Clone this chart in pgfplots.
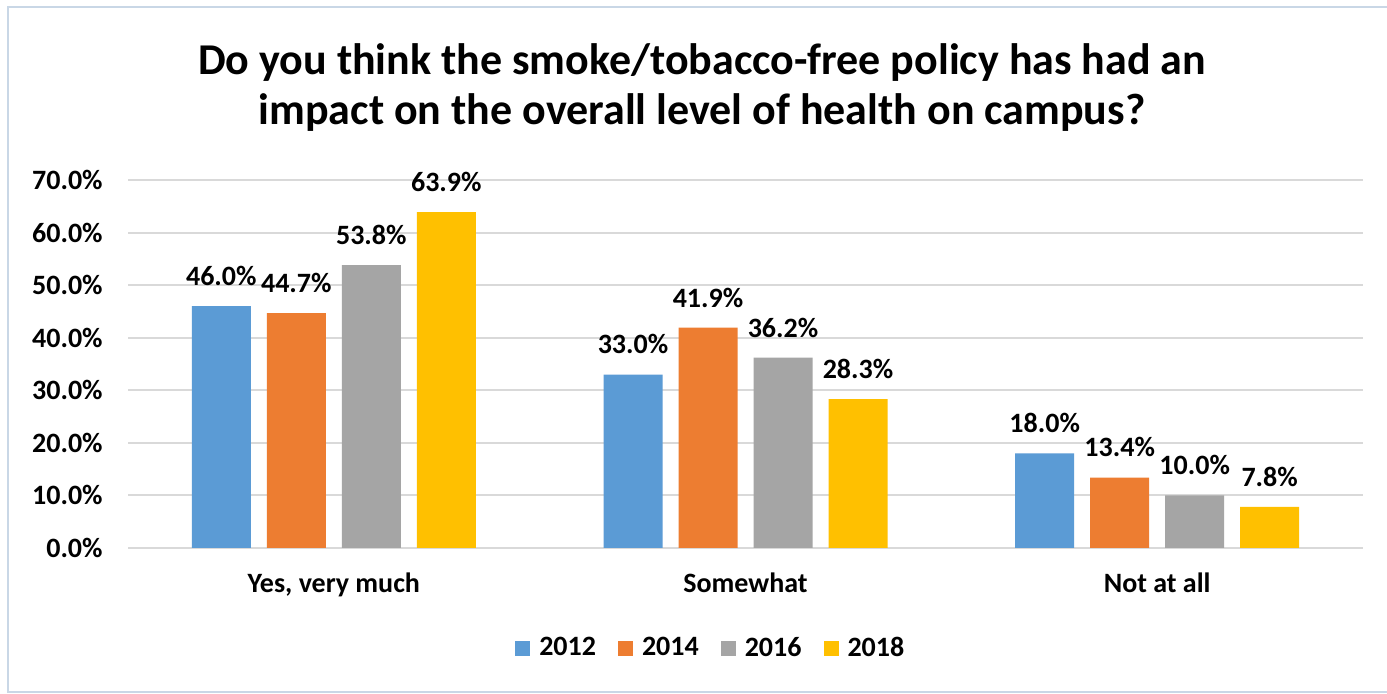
\documentclass[border=0pt]{standalone}
\usepackage{pgfplots}
\pgfplotsset{compat=1.18}
\usepackage{fontspec}
\setmainfont{Carlito}
\definecolor{c12}{HTML}{5B9BD5}
\definecolor{c14}{HTML}{ED7D31}
\definecolor{c16}{HTML}{A5A5A5}
\definecolor{c18}{HTML}{FFC000}
\definecolor{gridc}{HTML}{D9D9D9}
\definecolor{framec}{HTML}{C9D7E6}
\begin{document}
\begin{tikzpicture}[x=0.5pt,y=0.5pt]
\useasboundingbox (0,0) rectangle (1387,694);
\fill[white] (0,0) rectangle (1387,694);
\draw[framec, line width=1pt] (8,2) rectangle (1400,687);
\node[font=\fontsize{22}{25}\selectfont\bfseries, align=center] at (702,606)
  {Do you think the smoke/tobacco-free policy has had an\\impact on the overall level of health on campus?};
\begin{axis}[
  at={(64pt,73pt)}, anchor=south west,
  width=617.5pt, height=184pt, scale only axis,
  ybar=8pt, bar width=29.5pt,
  ymin=0, ymax=70, xmin=-0.5, xmax=2.5,
  xtick={0,1,2}, xticklabels={{Yes, very much},Somewhat,Not at all},
  ytick={0,10,...,70},
  ymajorgrids, grid style={gridc, line width=1pt},
  axis line style={draw=none},
  major tick length=0pt,
  clip=false,
  /pgf/number format/assume math mode=true,
  yticklabel={\pgfmathprintnumber[fixed,fixed zerofill,precision=1]{\tick}\%},
  yticklabel style={font=\fontsize{14}{16}\selectfont\bfseries, inner sep=0pt, anchor=east, xshift=-12.5pt},
  xticklabel style={font=\fontsize{14}{16}\selectfont\bfseries, inner sep=0pt, anchor=base, yshift=-22.5pt},
  nodes near coords={\pgfmathprintnumber[fixed,fixed zerofill,precision=1]{\pgfplotspointmeta}\%},
  nodes near coords style={font=\fontsize{14}{16}\selectfont\bfseries, text=black, anchor=south, inner sep=0pt, yshift=10pt},
  legend style={at={(0.4727,-0.272)}, anchor=center, draw=none, legend columns=4,
    font=\fontsize{14}{16}\selectfont\bfseries,
    /tikz/every odd column/.append style={column sep=2.5pt},
    /tikz/every even column/.append style={column sep=9pt}},
  legend image code/.code={\fill[#1] (0pt,-3.75pt) rectangle (7.5pt,3.75pt);},
]
\addplot[fill=c12, draw=none] coordinates {(0,46.0) (1,33.0) (2,18.0)};
\addplot[fill=c14, draw=none] coordinates {(0,44.7) (1,41.9) (2,13.4)};
\addplot[fill=c16, draw=none] coordinates {(0,53.8) (1,36.2) (2,10.0)};
\addplot[fill=c18, draw=none] coordinates {(0,63.9) (1,28.3) (2,7.8)};
\legend{2012,2014,2016,2018}
\end{axis}
\end{tikzpicture}
\end{document}
